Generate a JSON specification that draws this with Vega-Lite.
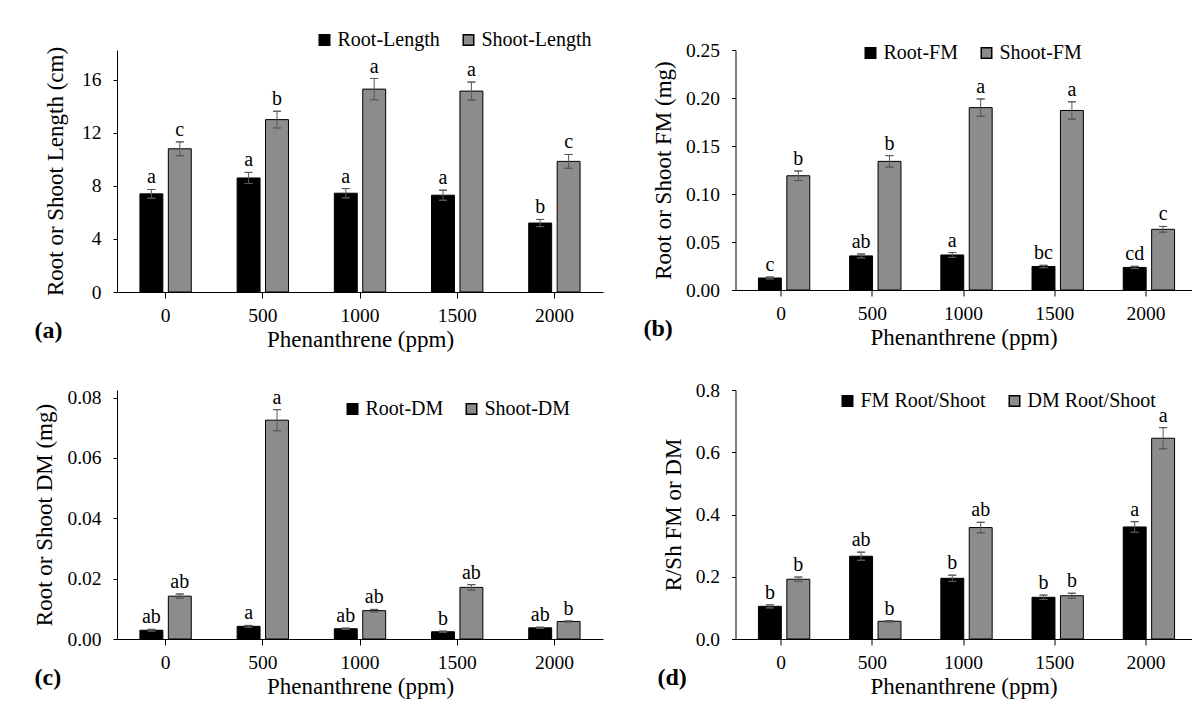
{
"$schema": "https://vega.github.io/schema/vega-lite/v6.json",
"background": "white",
"padding": {"left": 33, "top": 30, "right": 0, "bottom": 0},
"datasets": {
 "a": [
  {"phen":"0","grp":"R","series":"Root-Length","value":7.4,"lo":7.07,"hi":7.73,"letter":"a"},
  {"phen":"500","grp":"R","series":"Root-Length","value":8.6,"lo":8.18,"hi":9.02,"letter":"a"},
  {"phen":"1000","grp":"R","series":"Root-Length","value":7.45,"lo":7.1,"hi":7.8,"letter":"a"},
  {"phen":"1500","grp":"R","series":"Root-Length","value":7.3,"lo":6.92,"hi":7.68,"letter":"a"},
  {"phen":"2000","grp":"R","series":"Root-Length","value":5.2,"lo":4.93,"hi":5.47,"letter":"b"},
  {"phen":"0","grp":"S","series":"Shoot-Length","value":10.8,"lo":10.28,"hi":11.32,"letter":"c"},
  {"phen":"500","grp":"S","series":"Shoot-Length","value":13.0,"lo":12.37,"hi":13.63,"letter":"b"},
  {"phen":"1000","grp":"S","series":"Shoot-Length","value":15.3,"lo":14.5,"hi":16.1,"letter":"a"},
  {"phen":"1500","grp":"S","series":"Shoot-Length","value":15.15,"lo":14.47,"hi":15.83,"letter":"a"},
  {"phen":"2000","grp":"S","series":"Shoot-Length","value":9.85,"lo":9.33,"hi":10.37,"letter":"c"}
 ],
 "b": [
  {"phen":"0","grp":"R","series":"Root-FM","value":0.0125,"lo":0.0115,"hi":0.0135,"letter":"c"},
  {"phen":"500","grp":"R","series":"Root-FM","value":0.0355,"lo":0.0335,"hi":0.0375,"letter":"ab"},
  {"phen":"1000","grp":"R","series":"Root-FM","value":0.0365,"lo":0.034,"hi":0.039,"letter":"a"},
  {"phen":"1500","grp":"R","series":"Root-FM","value":0.0245,"lo":0.0233,"hi":0.0257,"letter":"bc"},
  {"phen":"2000","grp":"R","series":"Root-FM","value":0.0235,"lo":0.0223,"hi":0.0247,"letter":"cd"},
  {"phen":"0","grp":"S","series":"Shoot-FM","value":0.119,"lo":0.114,"hi":0.124,"letter":"b"},
  {"phen":"500","grp":"S","series":"Shoot-FM","value":0.134,"lo":0.128,"hi":0.14,"letter":"b"},
  {"phen":"1000","grp":"S","series":"Shoot-FM","value":0.19,"lo":0.181,"hi":0.199,"letter":"a"},
  {"phen":"1500","grp":"S","series":"Shoot-FM","value":0.187,"lo":0.178,"hi":0.196,"letter":"a"},
  {"phen":"2000","grp":"S","series":"Shoot-FM","value":0.0632,"lo":0.0602,"hi":0.0662,"letter":"c"}
 ],
 "c": [
  {"phen":"0","grp":"R","series":"Root-DM","value":0.0029,"lo":0.0026,"hi":0.0032,"letter":"ab"},
  {"phen":"500","grp":"R","series":"Root-DM","value":0.0042,"lo":0.0039,"hi":0.0045,"letter":"a"},
  {"phen":"1000","grp":"R","series":"Root-DM","value":0.0034,"lo":0.0032,"hi":0.0036,"letter":"ab"},
  {"phen":"1500","grp":"R","series":"Root-DM","value":0.0024,"lo":0.0022,"hi":0.0026,"letter":"b"},
  {"phen":"2000","grp":"R","series":"Root-DM","value":0.0037,"lo":0.0035,"hi":0.0039,"letter":"ab"},
  {"phen":"0","grp":"S","series":"Shoot-DM","value":0.0142,"lo":0.0135,"hi":0.0149,"letter":"ab"},
  {"phen":"500","grp":"S","series":"Shoot-DM","value":0.0725,"lo":0.069,"hi":0.076,"letter":"a"},
  {"phen":"1000","grp":"S","series":"Shoot-DM","value":0.0094,"lo":0.009,"hi":0.0098,"letter":"ab"},
  {"phen":"1500","grp":"S","series":"Shoot-DM","value":0.0171,"lo":0.0162,"hi":0.018,"letter":"ab"},
  {"phen":"2000","grp":"S","series":"Shoot-DM","value":0.0058,"lo":0.0056,"hi":0.006,"letter":"b"}
 ],
 "d": [
  {"phen":"0","grp":"R","series":"FM Root/Shoot","value":0.105,"lo":0.1,"hi":0.11,"letter":"b"},
  {"phen":"500","grp":"R","series":"FM Root/Shoot","value":0.266,"lo":0.253,"hi":0.279,"letter":"ab"},
  {"phen":"1000","grp":"R","series":"FM Root/Shoot","value":0.195,"lo":0.185,"hi":0.205,"letter":"b"},
  {"phen":"1500","grp":"R","series":"FM Root/Shoot","value":0.134,"lo":0.127,"hi":0.141,"letter":"b"},
  {"phen":"2000","grp":"R","series":"FM Root/Shoot","value":0.36,"lo":0.343,"hi":0.377,"letter":"a"},
  {"phen":"0","grp":"S","series":"DM Root/Shoot","value":0.192,"lo":0.185,"hi":0.199,"letter":"b"},
  {"phen":"500","grp":"S","series":"DM Root/Shoot","value":0.057,"lo":0.055,"hi":0.059,"letter":"b"},
  {"phen":"1000","grp":"S","series":"DM Root/Shoot","value":0.358,"lo":0.341,"hi":0.375,"letter":"ab"},
  {"phen":"1500","grp":"S","series":"DM Root/Shoot","value":0.139,"lo":0.131,"hi":0.147,"letter":"b"},
  {"phen":"2000","grp":"S","series":"DM Root/Shoot","value":0.645,"lo":0.611,"hi":0.679,"letter":"a"}
 ]
},
"columns": 2,
"spacing": {"row": 98, "column": 132.5},
"bounds": "flush",
"resolve": {"scale": {"x": "independent", "y": "independent", "color": "independent"}, "legend": {"color": "independent"}},
"concat": [
 {
  "width": 486, "height": 242,
  "title": {"text": "(a)", "orient": "bottom", "anchor": "start", "frame": "group", "offset": -33, "dx": -82.5, "fontSize": 24, "fontWeight": "bold", "font": "Liberation Serif", "color": "#000000"},
  "data": {"name": "a"},
  "encoding": {
   "x": {"field": "phen", "type": "nominal", "sort": ["0","500","1000","1500","2000"], "scale": {"paddingInner": 0, "paddingOuter": 0}, "axis": {"title": "Phenanthrene (ppm)", "labelAngle": 0, "tickSize": 6, "labelPadding": 8, "titlePadding": 4}},
   "xOffset": {"field": "grp", "type": "nominal", "scale": {"paddingInner": 0.193, "paddingOuter": 0.807}}
  },
  "layer": [
   {"mark": {"type": "bar", "stroke": "#000000", "strokeWidth": 1}, "encoding": {
     "y": {"field": "value", "type": "quantitative", "stack": null, "scale": {"domain": [0, 18.25], "nice": false}, "axis": {"title": "Root or Shoot Length (cm)", "values": [0,2,4,6,8,10,12,14,16,18], "labelOverlap": false, "tickSize": 4, "labelPadding": 12, "titlePadding": 14}},
     "color": {"field": "series", "type": "nominal", "scale": {"domain": ["Root-Length","Shoot-Length"], "range": ["#000000","#8c8c8c"]}, "legend": {"title": null, "orient": "none", "legendX": 197.5, "legendY": -20, "direction": "horizontal"}}}},
   {"mark": {"type": "rule", "color": "#595959", "strokeWidth": 1}, "encoding": {"y": {"field": "lo", "type": "quantitative"}, "y2": {"field": "hi"}}},
   {"mark": {"type": "bar", "width": 8, "fill": "transparent", "stroke": "#595959", "strokeWidth": 1}, "encoding": {"y": {"field": "hi", "type": "quantitative"}, "y2": {"field": "hi"}}},
   {"mark": {"type": "bar", "width": 8, "fill": "transparent", "stroke": "#595959", "strokeWidth": 1}, "encoding": {"y": {"field": "lo", "type": "quantitative"}, "y2": {"field": "lo"}}},
   {"mark": {"type": "text", "baseline": "alphabetic", "dy": -6, "fontSize": 20}, "encoding": {"y": {"field": "hi", "type": "quantitative"}, "text": {"field": "letter"}}}
  ]
 },
 {
  "width": 456, "height": 240,
  "title": {"text": "(b)", "orient": "bottom", "anchor": "start", "frame": "group", "offset": -33, "dx": -92, "fontSize": 24, "fontWeight": "bold", "font": "Liberation Serif", "color": "#000000"},
  "data": {"name": "b"},
  "encoding": {
   "x": {"field": "phen", "type": "nominal", "sort": ["0","500","1000","1500","2000"], "scale": {"paddingInner": 0, "paddingOuter": 0}, "axis": {"title": "Phenanthrene (ppm)", "labelAngle": 0, "tickSize": 6, "labelPadding": 8, "titlePadding": 4}},
   "xOffset": {"field": "grp", "type": "nominal", "scale": {"paddingInner": 0.193, "paddingOuter": 0.807}}
  },
  "layer": [
   {"mark": {"type": "bar", "stroke": "#000000", "strokeWidth": 1}, "encoding": {
     "y": {"field": "value", "type": "quantitative", "stack": null, "scale": {"domain": [0, 0.25], "nice": false}, "axis": {"title": "Root or Shoot FM (mg)", "values": [0,0.05,0.1,0.15,0.2,0.25], "format": ".2f", "labelOverlap": false, "tickSize": 4, "labelPadding": 12, "titlePadding": 10}},
     "color": {"field": "series", "type": "nominal", "scale": {"domain": ["Root-FM","Shoot-FM"], "range": ["#000000","#8c8c8c"]}, "legend": {"title": null, "orient": "none", "legendX": 125, "legendY": -7, "direction": "horizontal"}}}},
   {"mark": {"type": "rule", "color": "#595959", "strokeWidth": 1}, "encoding": {"y": {"field": "lo", "type": "quantitative"}, "y2": {"field": "hi"}}},
   {"mark": {"type": "bar", "width": 8, "fill": "transparent", "stroke": "#595959", "strokeWidth": 1}, "encoding": {"y": {"field": "hi", "type": "quantitative"}, "y2": {"field": "hi"}}},
   {"mark": {"type": "bar", "width": 8, "fill": "transparent", "stroke": "#595959", "strokeWidth": 1}, "encoding": {"y": {"field": "lo", "type": "quantitative"}, "y2": {"field": "lo"}}},
   {"mark": {"type": "text", "baseline": "alphabetic", "dy": -6, "fontSize": 20}, "encoding": {"y": {"field": "hi", "type": "quantitative"}, "text": {"field": "letter"}}}
  ]
 },
 {
  "width": 486, "height": 249,
  "title": {"text": "(c)", "orient": "bottom", "anchor": "start", "frame": "group", "offset": -33, "dx": -82.5, "fontSize": 24, "fontWeight": "bold", "font": "Liberation Serif", "color": "#000000"},
  "data": {"name": "c"},
  "encoding": {
   "x": {"field": "phen", "type": "nominal", "sort": ["0","500","1000","1500","2000"], "scale": {"paddingInner": 0, "paddingOuter": 0}, "axis": {"title": "Phenanthrene (ppm)", "labelAngle": 0, "tickSize": 6, "labelPadding": 8, "titlePadding": 4}},
   "xOffset": {"field": "grp", "type": "nominal", "scale": {"paddingInner": 0.193, "paddingOuter": 0.807}}
  },
  "layer": [
   {"mark": {"type": "bar", "stroke": "#000000", "strokeWidth": 1}, "encoding": {
     "y": {"field": "value", "type": "quantitative", "stack": null, "scale": {"domain": [0, 0.0825], "nice": false}, "axis": {"title": "Root or Shoot DM (mg)", "values": [0,0.01,0.02,0.03,0.04,0.05,0.06,0.07,0.08], "format": ".2f", "labelOverlap": false, "tickSize": 4, "labelPadding": 12, "titlePadding": 10}},
     "color": {"field": "series", "type": "nominal", "scale": {"domain": ["Root-DM","Shoot-DM"], "range": ["#000000","#8c8c8c"]}, "legend": {"title": null, "orient": "none", "legendX": 225.5, "legendY": 9, "direction": "horizontal"}}}},
   {"mark": {"type": "rule", "color": "#595959", "strokeWidth": 1}, "encoding": {"y": {"field": "lo", "type": "quantitative"}, "y2": {"field": "hi"}}},
   {"mark": {"type": "bar", "width": 8, "fill": "transparent", "stroke": "#595959", "strokeWidth": 1}, "encoding": {"y": {"field": "hi", "type": "quantitative"}, "y2": {"field": "hi"}}},
   {"mark": {"type": "bar", "width": 8, "fill": "transparent", "stroke": "#595959", "strokeWidth": 1}, "encoding": {"y": {"field": "lo", "type": "quantitative"}, "y2": {"field": "lo"}}},
   {"mark": {"type": "text", "baseline": "alphabetic", "dy": -6, "fontSize": 20}, "encoding": {"y": {"field": "hi", "type": "quantitative"}, "text": {"field": "letter"}}}
  ]
 },
 {
  "width": 456, "height": 249,
  "title": {"text": "(d)", "orient": "bottom", "anchor": "start", "frame": "group", "offset": -33, "dx": -78, "fontSize": 24, "fontWeight": "bold", "font": "Liberation Serif", "color": "#000000"},
  "data": {"name": "d"},
  "encoding": {
   "x": {"field": "phen", "type": "nominal", "sort": ["0","500","1000","1500","2000"], "scale": {"paddingInner": 0, "paddingOuter": 0}, "axis": {"title": "Phenanthrene (ppm)", "labelAngle": 0, "tickSize": 6, "labelPadding": 8, "titlePadding": 4}},
   "xOffset": {"field": "grp", "type": "nominal", "scale": {"paddingInner": 0.193, "paddingOuter": 0.807}}
  },
  "layer": [
   {"mark": {"type": "bar", "stroke": "#000000", "strokeWidth": 1}, "encoding": {
     "y": {"field": "value", "type": "quantitative", "stack": null, "scale": {"domain": [0, 0.8], "nice": false}, "axis": {"title": "R/Sh FM or DM", "values": [0,0.1,0.2,0.3,0.4,0.5,0.6,0.7,0.8], "format": ".1f", "labelOverlap": false, "tickSize": 4, "labelPadding": 12, "titlePadding": 10}},
     "color": {"field": "series", "type": "nominal", "scale": {"domain": ["FM Root/Shoot","DM Root/Shoot"], "range": ["#000000","#8c8c8c"]}, "legend": {"title": null, "orient": "none", "legendX": 102, "legendY": 1, "direction": "horizontal"}}}},
   {"mark": {"type": "rule", "color": "#595959", "strokeWidth": 1}, "encoding": {"y": {"field": "lo", "type": "quantitative"}, "y2": {"field": "hi"}}},
   {"mark": {"type": "bar", "width": 8, "fill": "transparent", "stroke": "#595959", "strokeWidth": 1}, "encoding": {"y": {"field": "hi", "type": "quantitative"}, "y2": {"field": "hi"}}},
   {"mark": {"type": "bar", "width": 8, "fill": "transparent", "stroke": "#595959", "strokeWidth": 1}, "encoding": {"y": {"field": "lo", "type": "quantitative"}, "y2": {"field": "lo"}}},
   {"mark": {"type": "text", "baseline": "alphabetic", "dy": -6, "fontSize": 20}, "encoding": {"y": {"field": "hi", "type": "quantitative"}, "text": {"field": "letter"}}}
  ]
 }
],
"config": {
 "font": "Liberation Serif",
 "view": {"stroke": null},
 "axis": {"labelFont": "Liberation Serif", "titleFont": "Liberation Serif", "labelFontSize": 19.5, "titleFontSize": 23, "titleFontWeight": "normal", "labelColor": "#000000", "titleColor": "#000000", "domainColor": "#000000", "tickColor": "#000000", "grid": false},
 "legend": {"labelFont": "Liberation Serif", "labelFontSize": 20, "labelColor": "#000000", "symbolType": "square", "symbolSize": 110, "symbolStrokeColor": "#000000", "symbolStrokeWidth": 1.5, "labelOffset": 3, "columnPadding": 18, "padding": 0},
 "text": {"font": "Liberation Serif", "color": "#000000"}
}
}
